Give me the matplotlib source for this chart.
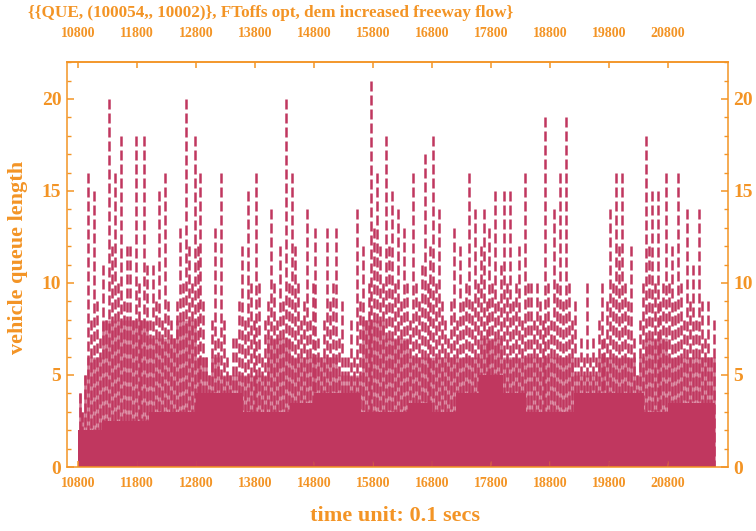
import numpy as np
import matplotlib
matplotlib.use('Agg')
import matplotlib.pyplot as plt
from matplotlib.ticker import MultipleLocator


# highest queue reached in each 50-step window, first window starts at t = 10800
queue_peak = [
    4, 3, 5, 16, 8, 15, 9, 7, 11, 8, 20, 12, 16, 10, 18, 9, 12, 12, 8, 18,
    10, 8, 18, 11, 8, 11, 9, 15, 8, 16, 9, 8, 7, 9, 13, 10, 20, 12, 10, 18,
    12, 16, 9, 6, 5, 8, 13, 7, 16, 8, 6, 5, 7, 7, 9, 12, 8, 15, 10, 8,
    16, 10, 6, 8, 9, 14, 10, 8, 12, 9, 20, 10, 16, 12, 10, 8, 9, 14, 8, 10,
    13, 7, 6, 8, 13, 9, 10, 13, 7, 9, 6, 6, 8, 6, 14, 9, 12, 8, 10, 21,
    13, 16, 12, 10, 18, 12, 15, 10, 14, 9, 13, 10, 8, 16, 10, 9, 11, 17, 10, 12,
    18, 10, 14, 9, 8, 7, 9, 13, 8, 12, 9, 10, 16, 9, 14, 10, 12, 14, 9, 13,
    10, 15, 9, 11, 15, 10, 15, 9, 10, 12, 8, 16, 10, 10, 8, 10, 9, 8, 19, 10,
    8, 14, 10, 16, 9, 19, 10, 8, 9, 6, 7, 6, 10, 6, 7, 6, 8, 10, 7, 9,
    14, 10, 16, 12, 16, 10, 9, 12, 7, 5, 8, 10, 18, 12, 15, 10, 15, 9, 10, 16,
    10, 12, 9, 16, 10, 8, 14, 9, 11, 8, 14, 9, 7, 9, 6, 8,
]

# per 400-step window: level the queue sits at most of the time ...
queue_busy = [
    6, 8, 8, 7, 8, 6, 5, 5, 7, 6, 6, 5, 8, 7, 6, 6, 6, 7, 6, 6,
    6, 5, 6, 6, 7, 6, 6,
]
# ... and level that is almost always occupied
queue_floor = [
    2, 2.5, 2.5, 3, 3, 4, 4, 3, 3, 3.5, 4, 4, 3, 3, 3.5, 3, 4, 5, 4, 3,
    3, 4, 4, 4, 3, 3.5, 3.5,
]

x_ticks = [10800, 11800, 12800, 13800, 14800, 15800, 16800, 17800, 18800, 19800, 20800]
y_ticks = [0, 5, 10, 15, 20]

t0 = 10800
bin_width = 50
window = 400

orange = '#F39425'
crimson = '#C0375F'
serif = ['Liberation Serif', 'DejaVu Serif']


def style_labels(labels, size):
    for lab in labels:
        lab.set_family(serif)
        lab.set_fontweight('bold')
        lab.set_fontsize(size)


def plot_queue():
    fig = plt.figure(figsize=(7.56, 5.31), dpi=100)
    ax = fig.add_axes([0.0886, 0.1205, 0.8744, 0.7625])

    centers = t0 + bin_width * np.arange(len(queue_peak)) + bin_width / 2
    per_window = window // bin_width
    busy = np.minimum(np.repeat(queue_busy, per_window), queue_peak)

    # segments run top-down so each column starts with a dash at its peak
    ax.vlines(centers, queue_peak, 0, colors=crimson, linewidth=1.8,
              linestyles=(0, (4.0, 1.6)))
    ax.vlines(centers, 0, busy, colors=crimson, linewidth=1.8, alpha=0.75)
    edges = t0 + window * np.arange(len(queue_floor) + 1)
    ax.stairs(queue_floor, edges, fill=True, color=crimson, linewidth=0)

    ax.set_xlim(10612, 21820)
    ax.set_ylim(0, 22)
    ax.set_xticks(x_ticks)
    ax.set_yticks(y_ticks)
    ax.yaxis.set_minor_locator(MultipleLocator(1))

    for side in ax.spines.values():
        side.set_color(orange)
        side.set_linewidth(1.1)

    ax.tick_params(axis='x', direction='in', length=4, width=1.1, pad=7,
                   color=orange, labelcolor=orange)
    ax.tick_params(axis='y', which='major', direction='in', left=True, right=True,
                   labelleft=True, labelright=True, length=5, width=1.1,
                   color=orange, labelcolor=orange, pad=4)
    ax.tick_params(axis='y', which='minor', direction='in', left=True, right=True,
                   length=3, width=1.0, color=orange)

    top = ax.secondary_xaxis('top')
    top.set_xticks(x_ticks)
    top.tick_params(direction='in', length=4, width=1.1, pad=16,
                    color=orange, labelcolor=orange)
    top.spines['top'].set_color(orange)
    top.spines['top'].set_linewidth(1.1)

    style_labels(ax.get_xticklabels() + top.get_xticklabels(), 10)
    style_labels(ax.get_yticklabels(), 14)

    fig.text(0.037, 0.975, '{{QUE, (100054,, 10002)}, FToffs opt, dem increased freeway flow}',
             family=serif, fontweight='bold', fontsize=12.3, color=orange,
             ha='left', va='center')
    fig.text(0.0235, 0.516, 'vehicle queue length', family=serif, fontweight='bold',
             fontsize=16, color=orange, rotation=90, ha='center', va='center')
    fig.text(0.522, 0.028, 'time unit: 0.1 secs', family=serif, fontweight='bold',
             fontsize=16, color=orange, ha='center', va='center')

    fig.savefig('out.png', dpi=100)


plot_queue()
